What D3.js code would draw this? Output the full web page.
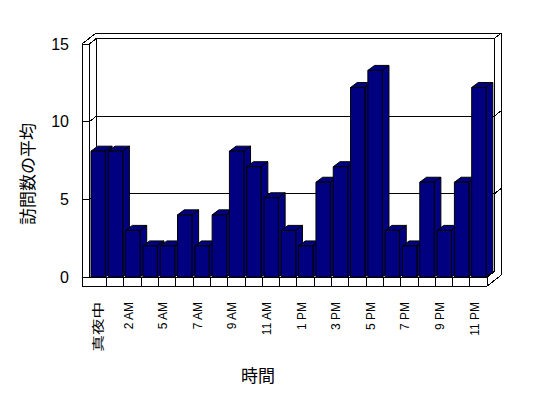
<!DOCTYPE html>
<html lang="ja">
<head>
    <meta charset="UTF-8">
    <title>訪問数の平均</title>
    <script src="https://d3js.org/d3.v7.min.js"></script>
    <style>
        html, body {
            margin: 0;
            padding: 0;
            background: #fff;
        }

        svg {
            display: block;
        }

        .frame line, .frame path {
            stroke: #000;
            stroke-width: 1px;
            fill: none;
            shape-rendering: crispEdges;
        }

        .bars path {
            fill: #000080;
            stroke: #000;
            stroke-width: 1px;
            stroke-linejoin: miter;
        }

        .ticklabel {
            font-family: "Liberation Sans", Arial, sans-serif;
            fill: #000;
        }

        .title {
            font-family: "Noto Sans CJK JP", sans-serif;
            font-size: 17px;
            fill: #000;
        }
    </style>
</head>
<body>
    <svg width="548" height="398"></svg>

    <script>
        // hours (4 AM has no data)
        const categories = ["真夜中", "1 AM", "2 AM", "3 AM", "5 AM", "6 AM", "7 AM", "8 AM", "9 AM", "10 AM", "11 AM", "正午",
            "1 PM", "2 PM", "3 PM", "4 PM", "5 PM", "6 PM", "7 PM", "8 PM", "9 PM", "10 PM", "11 PM"];
        const visits = [8.1, 8.1, 3, 2, 2, 4, 2, 4, 8.1, 7.1, 5.1, 3, 2, 6.1, 7.1, 12.2, 13.3, 3, 2, 6.1, 3, 6.1, 12.2];
        const yTicks = [0, 5, 10, 15];
        const yTitle = "訪問数の平均";
        const xTitle = "時間";

        const svg = d3.select("svg");

        // front plane of the plot
        const x0 = 89.3, x1 = 487.3;
        const wallX = 82;          // outer face of the side wall
        const floorBottom = 286;
        const dx = 7, dy = -5.5;   // depth offset (wall thickness is the same)

        const x = d3.scaleBand()
            .domain(categories)
            .range([x0, x1])
            .padding(0);

        const y = d3.scaleLinear()
            .domain([0, 15])
            .range([277, 44]);

        const frame = svg.append("g").attr("class", "frame");
        const line = (a, b, c, d) => frame.append("line")
            .attr("x1", a).attr("y1", b).attr("x2", c).attr("y2", d);

        const yTop = y(15), yZero = y(0);

        // side wall
        line(wallX, yTop, wallX, floorBottom);
        line(x0, yTop, x0, yZero);
        line(wallX, yTop, x0, yTop);
        line(wallX, yTop, wallX + 2 * dx, yTop + 2 * dy);
        line(x0, yTop, x0 + dx, yTop + dy);

        // back wall
        line(x0 + dx, yTop + dy, x0 + dx, yZero + dy);
        line(x0 + dx, yTop + dy, x1 + dx, yTop + dy);
        line(wallX + 2 * dx, yTop + 2 * dy, x1 + 2 * dx, yTop + 2 * dy);
        line(x1 + dx, yTop + dy, x1 + dx, yZero + dy);
        line(x1 + dx, yTop + dy, x1 + 2 * dx, yTop + 2 * dy);
        line(x1 + 2 * dx, yTop + 2 * dy, x1 + 2 * dx, floorBottom + 2 * dy);

        // floor
        line(wallX, yZero, x1, yZero);
        line(wallX, floorBottom, x1, floorBottom);
        line(x1, yZero, x1, floorBottom);
        line(x1, yZero, x1 + dx, yZero + dy);
        line(x1, floorBottom, x1 + 2 * dx, floorBottom + 2 * dy);
        categories.slice(1).forEach(c => line(x(c), yZero, x(c), floorBottom));

        // gridlines on walls
        yTicks.filter(v => v > 0 && v < 15).forEach(v => {
            line(wallX, y(v), x0, y(v));
            line(x0, y(v), x0 + dx, y(v) + dy);
            line(x0 + dx, y(v) + dy, x1 + dx, y(v) + dy);
            line(x1 + dx, y(v) + dy, x1 + 2 * dx, y(v) + 2 * dy);
        });

        // bars, left to right so each front face hides the previous side
        const bw = 14.4, off = 1.7, bdx = 6.7, bdy = -5;
        const bars = svg.append("g").attr("class", "bars");
        categories.forEach((c, i) => {
            const bx = x(c) + off;
            const top = y(visits[i]);
            const g = bars.append("g");
            g.append("path").attr("d", `M${bx},${top}L${bx + bdx},${top + bdy}L${bx + bw + bdx},${top + bdy}L${bx + bw},${top}Z`);
            g.append("path").attr("d", `M${bx + bw},${top}L${bx + bw + bdx},${top + bdy}L${bx + bw + bdx},${yZero + bdy}L${bx + bw},${yZero}Z`);
            g.append("path").attr("d", `M${bx},${top}L${bx + bw},${top}L${bx + bw},${yZero}L${bx},${yZero}Z`);
        });

        // y tick labels
        svg.append("g")
            .selectAll("text")
            .data(yTicks)
            .enter().append("text")
            .attr("class", "ticklabel")
            .attr("x", 69)
            .attr("y", d => y(d))
            .attr("dy", "0.36em")
            .attr("text-anchor", "end")
            .style("font-size", "16px")
            .text(d => d);

        // x tick labels, every other hour
        const shown = categories.filter((c, i) => i % 2 === 0);
        const isCjk = s => /[^\x00-\x7F]/.test(s);
        svg.append("g")
            .selectAll("text")
            .data(shown)
            .enter().append("text")
            .attr("class", "ticklabel")
            // the CJK label is drawn stretched along its length, like the original
            .attr("transform", d => `translate(${x(d) + x.bandwidth() / 2},302) rotate(-90)` + (isCjk(d) ? " scale(1.38,1)" : ""))
            .attr("text-anchor", "end")
            .attr("dy", d => isCjk(d) ? "0.42em" : "0")
            .style("font-size", "12px")
            .style("font-family", d => isCjk(d) ? "'Noto Sans CJK JP', sans-serif" : null)
            .text(d => d);

        // axis titles
        svg.append("text")
            .attr("class", "title")
            .attr("transform", "translate(28,174) rotate(-90)")
            .attr("text-anchor", "middle")
            .attr("dy", "0.35em")
            .text(yTitle);

        svg.append("text")
            .attr("class", "title")
            .attr("x", 258)
            .attr("y", 376)
            .attr("text-anchor", "middle")
            .attr("dy", "0.35em")
            .text(xTitle);
    </script>
</body>
</html>
